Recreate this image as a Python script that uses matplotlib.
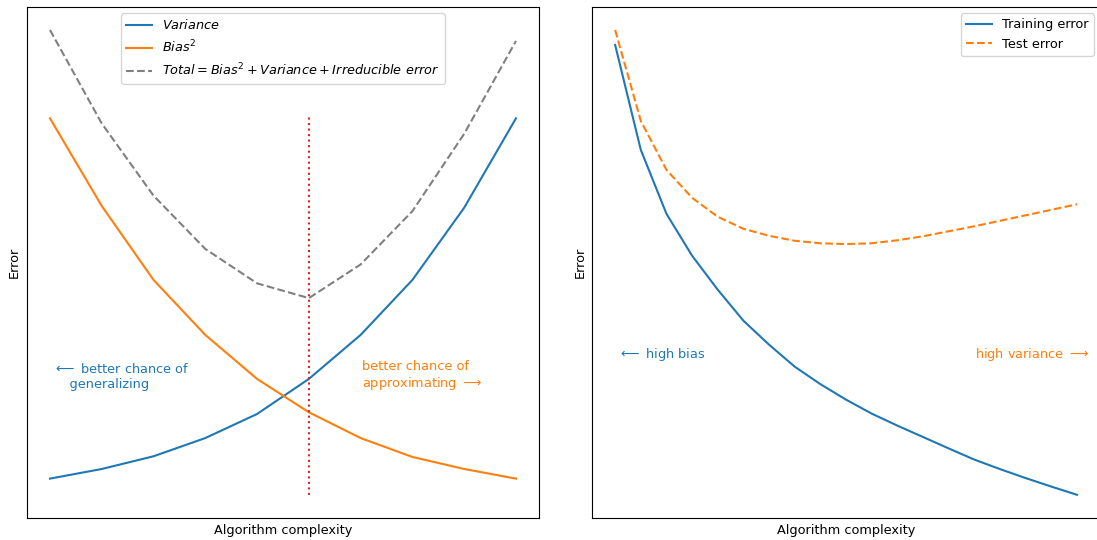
import matplotlib
matplotlib.use('Agg')
import matplotlib.pyplot as plt

plt.rcParams['font.size'] = 9.3

# ==================== 데이터 ====================
# 왼쪽: bias-variance tradeoff
complexity = list(range(10))
variance = [1.12, 1.40, 1.77, 2.30, 3.00, 4.02, 5.30, 6.90, 9.00, 11.60]
bias_sq = [11.60, 9.05, 6.90, 5.30, 4.02, 3.05, 2.30, 1.75, 1.40, 1.12]
total = [14.17, 11.45, 9.35, 7.80, 6.80, 6.37, 7.35, 8.90, 11.15, 13.85]
opt_x = 5
opt_ymin, opt_ymax = 0.65, 11.67

# 오른쪽: training / test error
complexity2 = list(range(19))
train_err = [47.5, 37.0, 30.6, 26.4, 23.0, 19.9, 17.5, 15.3, 13.55, 12.0,
             10.6, 9.4, 8.26, 7.12, 6.0, 5.05, 4.15, 3.3, 2.48]
test_err = [49.0, 39.9, 35.0, 32.2, 30.3, 29.1, 28.4, 27.9, 27.65, 27.57,
            27.65, 27.95, 28.35, 28.85, 29.35, 29.9, 30.45, 31.0, 31.55]

fig = plt.figure(figsize=(10.97, 5.40), dpi=100)
ax1 = fig.add_axes([0.0243, 0.0407, 0.4673, 0.9469])
ax2 = fig.add_axes([0.5397, 0.0407, 0.4631, 0.9469])

# ==================== 왼쪽 그래프 ====================
ax1.plot(complexity, variance, c='C0', label='$Variance$')
ax1.plot(complexity, bias_sq, c='C1', label='$Bias^2$')
ax1.plot(complexity, total, '--', c='gray',
         label='$Total = Bias^2 + Variance + Irreducible\\ error$')
ax1.vlines(opt_x, opt_ymin, opt_ymax, linestyles=':', colors='C3')
ax1.text(0.06, 4.1, '$\\longleftarrow$ better chance of\n    generalizing',
         color='C0', va='center', ha='left')
ax1.text(6.02, 4.1, 'better chance of\napproximating $\\longrightarrow$',
         color='C1', va='center', ha='left')
ax1.legend(loc='upper center')
ax1.set_xticks([])
ax1.set_yticks([])
ax1.set_xlabel('Algorithm complexity')
ax1.set_ylabel('Error')

# ==================== 오른쪽 그래프 ====================
ax2.plot(complexity2, train_err, c='C0', label='Training error')
ax2.plot(complexity2, test_err, '--', c='C1', label='Test error')
ax2.text(0.13, 16.5, '$\\longleftarrow$ high bias',
         color='C0', va='center', ha='left')
ax2.text(18.47, 16.5, 'high variance $\\longrightarrow$',
         color='C1', va='center', ha='right')
ax2.legend(loc='upper right')
ax2.set_xticks([])
ax2.set_yticks([])
ax2.set_xlabel('Algorithm complexity')
ax2.set_ylabel('Error')

plt.savefig('out.png', dpi=100)
